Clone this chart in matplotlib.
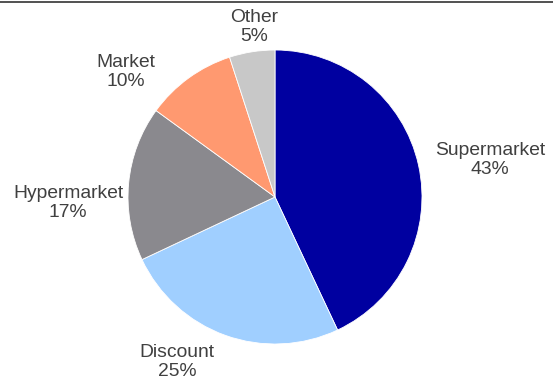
import matplotlib.pyplot as plt
from matplotlib.lines import Line2D

# ── data ──────────────────────────────────────────────────────────────────────
labels = ["Supermarket", "Discount", "Hypermarket", "Market", "Other"]
shares = [43, 25, 17, 10, 5]
colors = ["#0000A0", "#A0CFFF", "#8A898E", "#FF9970", "#C8C8C8"]

# label centres in pixels (x, y from top)
label_px = [(490, 160), (177, 362), (68, 203), (126, 72), (254, 27)]

W, H = 553, 381
CX, CY, R = 275, 197, 147

plt.rcParams["font.family"] = ["Liberation Sans", "DejaVu Sans"]

fig = plt.figure(figsize=(W / 100, H / 100), dpi=100)
ax = fig.add_axes([0, 0, 1, 1])

ax.pie(shares, colors=colors, startangle=90, counterclock=False,
       radius=1, center=(0, 0),
       wedgeprops=dict(edgecolor="white", linewidth=0.6))

ax.set_xlim(-CX / R, (W - CX) / R)
ax.set_ylim(-(H - CY) / R, CY / R)
ax.set_aspect("equal")
ax.axis("off")

for lab, val, (px, py) in zip(labels, shares, label_px):
    ax.text((px - CX) / R, (CY - py) / R, f"{lab}\n{val}%",
            ha="center", va="center", fontsize=13.9, color="#404040",
            linespacing=1.15)

# thin rule along the top edge
fig.add_artist(Line2D([0, 1], [1 - 1.5 / H, 1 - 1.5 / H],
                      transform=fig.transFigure, color="#333333", linewidth=1.2))

fig.savefig("out.png", dpi=100)
